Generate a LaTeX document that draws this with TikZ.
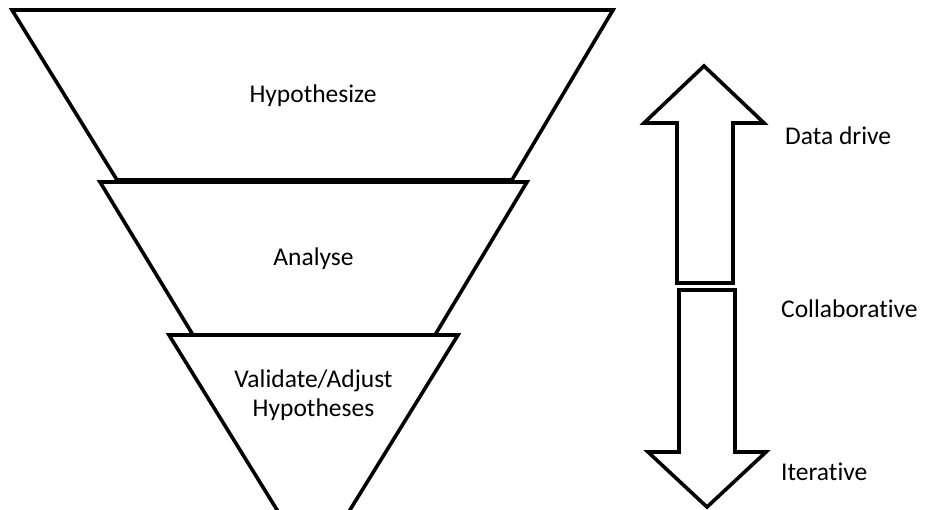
\documentclass[tikz,border=0pt]{standalone}
\usepackage{fontspec}
\setmainfont{Carlito}[Ligatures=NoCommon]
\begin{document}
\begin{tikzpicture}[x=1pt,y=-1pt,
  outline/.style={draw=black,line width=3.6pt,line join=miter,fill=white},
  label/.style={font=\fontsize{25.5}{29}\selectfont,inner sep=0pt},
  sidelabel/.style={label,anchor=base west}]
  \useasboundingbox (0,0) rectangle (927,510);
  \clip (0,0) rectangle (927,510);

  % funnel: three stacked stages, narrowest at the bottom
  \path[outline] (169,335) -- (458,335) -- (313.5,569) -- cycle;
  \path[outline] (100,182) -- (527,182) -- (435,335) -- (193,335) -- cycle;
  \path[outline] (12,10) -- (613,10) -- (512,180) -- (117,180) -- cycle;

  \node[label,anchor=base] (hyp) at (313,103) {Hypothesize};
  \node[label,anchor=base] (ana) at (313.5,266) {Analyse};
  \node[label,anchor=base,align=center] (val) at (313.5,417)
    {Validate/Adjust\\Hypotheses};

  % block arrows beside the funnel
  \path[outline] (704,66) -- (764,123) -- (733,123) -- (733,283)
    -- (677,283) -- (677,123) -- (644,123) -- cycle;
  \path[outline] (679,290) -- (735,290) -- (735,452) -- (766,452)
    -- (707,507) -- (648,452) -- (679,452) -- cycle;

  \node[sidelabel] (data) at (785,145) {Data drive};
  \node[sidelabel] (coll) at (781,318) {Collaborative};
  \node[sidelabel] (iter) at (781,481) {Iterative};
\end{tikzpicture}
\end{document}
